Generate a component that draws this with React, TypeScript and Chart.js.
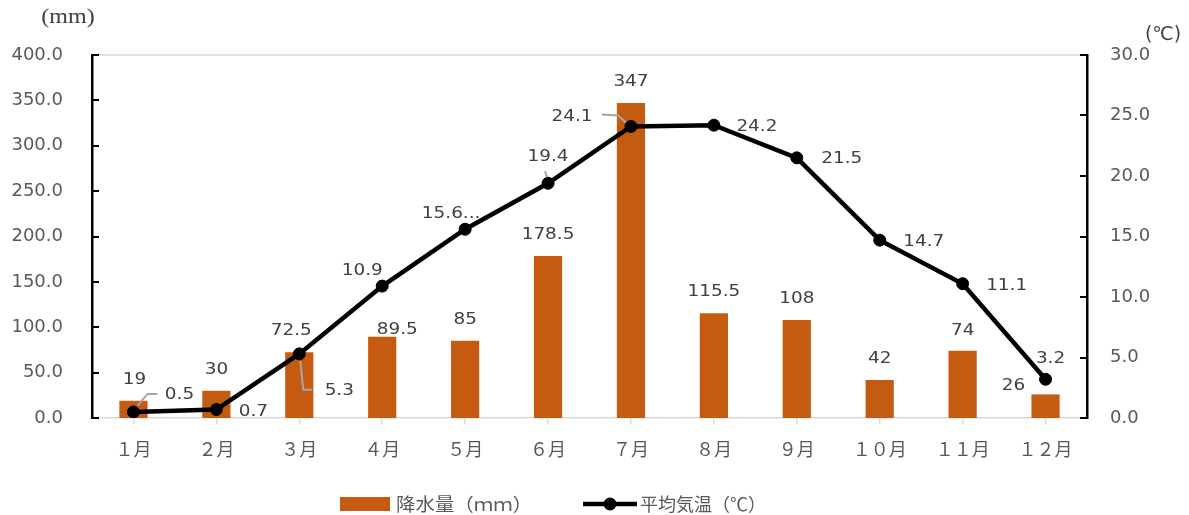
import React, { useEffect, useRef } from 'react';
import { Chart, registerables } from 'chart.js';

Chart.register(...registerables);

// ---- data ----
const months = ['１月', '２月', '３月', '４月', '５月', '６月', '７月', '８月', '９月', '１０月', '１１月', '１２月'];
const precipitation = [19, 30, 72.5, 89.5, 85, 178.5, 347, 115.5, 108, 42, 74, 26];
const temperature = [0.5, 0.7, 5.3, 10.9, 15.6, 19.4, 24.1, 24.2, 21.5, 14.7, 11.1, 3.2];
const precipLabel = '降水量（ｍｍ）';
const tempLabel = '平均気温（℃）';
const precipAxisMax = 400;
const precipAxisStep = 50;
const tempAxisMax = 30;
const tempAxisStep = 5;
const truncatedTempLabels = [4];

// ---- layout / style ----
const W = 1189;
const H = 515;
const BAR_COLOR = '#C55A11';
const LABEL_COLOR = '#404040';
const TICK_COLOR = '#595959';
const AXIS_GRAY = '#D9D9D9';
const LEADER_GRAY = '#A6A6A6';

// label offsets (pixels) relative to bar top / line point
const barLabelOffsets = [[1, -21], [0, -21], [-8, -21], [15, -7], [0, -21], [0, -21], [0, -21], [0, -21], [0, -21], [0, -21], [0, -20], [-32, -9]];
const lineLabelOffsets = [[46, -17], [37, 2], [40, 37], [-20, -15], [-14, -15], [0, -26], [-59, -10], [43, 2], [45, 1], [44, 2], [44, 2], [5, -20]];
const leaderPaths: Record<number, number[][]> = {
  0: [[4, -6], [14, -18], [24, -18]],
  2: [[1, 7], [4, 36], [13, 36]],
  5: [[-1, -6], [-3, -12]],
  6: [[-5, -4], [-13, -11], [-29, -12]],
};

function drawText(ctx: CanvasRenderingContext2D, text: string, x: number, y: number, font: string, color: string, align: CanvasTextAlign = 'center', stretch = 1) {
  ctx.save();
  ctx.font = font;
  ctx.fillStyle = color;
  ctx.textAlign = align;
  ctx.textBaseline = 'middle';
  ctx.translate(x, y);
  ctx.scale(stretch, 1);
  ctx.fillText(text, 0, 0);
  ctx.restore();
}

const overlayPlugin = {
  id: 'overlay',
  beforeDatasetsDraw(chart: any) {
    const ctx: CanvasRenderingContext2D = chart.ctx;
    const area = chart.chartArea;
    // top border line
    ctx.save();
    ctx.strokeStyle = AXIS_GRAY;
    ctx.lineWidth = 1.5;
    ctx.beginPath();
    ctx.moveTo(area.left, area.top);
    ctx.lineTo(area.right, area.top);
    ctx.stroke();
    ctx.restore();
  },
  afterDatasetsDraw(chart: any) {
    const ctx: CanvasRenderingContext2D = chart.ctx;
    const lineMeta = chart.getDatasetMeta(0);
    // leader lines
    ctx.save();
    ctx.strokeStyle = LEADER_GRAY;
    ctx.lineWidth = 2;
    Object.keys(leaderPaths).forEach((k) => {
      const i = Number(k);
      const el = lineMeta.data[i];
      if (!el) return;
      const pts = leaderPaths[i];
      ctx.beginPath();
      pts.forEach((p, j) => {
        if (j === 0) ctx.moveTo(el.x + p[0], el.y + p[1]);
        else ctx.lineTo(el.x + p[0], el.y + p[1]);
      });
      ctx.stroke();
    });
    ctx.restore();

    const labelFont = "16px 'DejaVu Sans'";
    const barMeta = chart.getDatasetMeta(1);
    barMeta.data.forEach((el: any, i: number) => {
      const v = precipitation[i];
      const o = barLabelOffsets[i];
      drawText(ctx, String(v), el.x + o[0], el.y + o[1], labelFont, LABEL_COLOR, 'center', 1.15);
    });
    lineMeta.data.forEach((el: any, i: number) => {
      const v = temperature[i];
      const o = lineLabelOffsets[i];
      const t = v.toFixed(1) + (truncatedTempLabels.includes(i) ? '...' : '');
      drawText(ctx, t, el.x + o[0], el.y + o[1], labelFont, LABEL_COLOR, 'center', 1.15);
    });
  },
  afterDraw(chart: any) {
    const ctx: CanvasRenderingContext2D = chart.ctx;
    const area = chart.chartArea;
    // inner tick marks on both y axes
    ctx.save();
    ctx.strokeStyle = '#000';
    ctx.lineWidth = 2;
    const y = chart.scales.y;
    y.ticks.forEach((t: any) => {
      const py = Math.round(y.getPixelForValue(t.value));
      ctx.beginPath();
      ctx.moveTo(area.left, py);
      ctx.lineTo(area.left + 7, py);
      ctx.stroke();
    });
    const y1 = chart.scales.y1;
    y1.ticks.forEach((t: any) => {
      const py = Math.round(y1.getPixelForValue(t.value));
      ctx.beginPath();
      ctx.moveTo(area.right, py);
      ctx.lineTo(area.right - 7, py);
      ctx.stroke();
    });
    ctx.restore();

    // axis unit titles
    drawText(ctx, '(mm)', 68, 18, "20px 'Liberation Serif'", LABEL_COLOR, 'center', 1.2);
    drawText(ctx, '(℃)', 1163, 35, "19px 'DejaVu Sans'", LABEL_COLOR, 'center', 1);

    // legend
    const ly = 504;
    const legendFont = "18px 'Noto Sans CJK JP'";
    ctx.save();
    ctx.fillStyle = BAR_COLOR;
    ctx.fillRect(340, 497, 50, 14);
    ctx.restore();
    drawText(ctx, chart.data.datasets[1].label, 396, ly, legendFont, TICK_COLOR, 'left', 1.08);
    ctx.save();
    ctx.strokeStyle = '#000';
    ctx.lineWidth = 4.5;
    ctx.beginPath();
    ctx.moveTo(583, ly);
    ctx.lineTo(637, ly);
    ctx.stroke();
    ctx.fillStyle = '#000';
    ctx.beginPath();
    ctx.arc(610, ly, 6.5, 0, Math.PI * 2);
    ctx.fill();
    ctx.restore();
    drawText(ctx, chart.data.datasets[0].label, 640, ly, legendFont, TICK_COLOR, 'left', 1);
  },
};

export default function App() {
  const ref = useRef<HTMLCanvasElement>(null);
  useEffect(() => {
    document.body.style.margin = '0';
    const canvas = ref.current;
    if (!canvas) return;
    const chart = new Chart(canvas, {
      type: 'bar',
      data: {
        labels: months,
        datasets: [
          {
            type: 'line',
            label: tempLabel,
            data: temperature,
            yAxisID: 'y1',
            borderColor: '#000',
            backgroundColor: '#000',
            borderWidth: 4.5,
            pointRadius: 6,
            pointBorderWidth: 1,
            pointBackgroundColor: '#000',
            pointBorderColor: '#000',
            tension: 0,
            order: 1,
          } as any,
          {
            type: 'bar',
            label: precipLabel,
            data: precipitation,
            yAxisID: 'y',
            backgroundColor: BAR_COLOR,
            categoryPercentage: 1,
            barPercentage: 0.34,
            order: 2,
          } as any,
        ],
      },
      options: {
        responsive: false,
        animation: false,
        events: [],
        layout: { padding: { top: 55, left: 0, right: 0, bottom: 0 } },
        plugins: {
          legend: { display: false },
          tooltip: { enabled: false },
        },
        scales: {
          x: {
            offset: true,
            grid: {
              offset: false,
              drawOnChartArea: false,
              drawTicks: true,
              tickLength: 6,
              color: AXIS_GRAY,
              lineWidth: 1.5,
            },
            border: { color: AXIS_GRAY, width: 1.5 },
            ticks: {
              color: TICK_COLOR,
              font: { family: "'Noto Sans CJK JP'", size: 18 },
              padding: 14,
              maxRotation: 0,
              autoSkip: false,
            },
            afterFit: (s: any) => { s.height = 97; },
          },
          y: {
            position: 'left',
            min: 0,
            max: precipAxisMax,
            grid: { display: false, drawTicks: false },
            border: { color: '#000', width: 2.5 },
            ticks: {
              stepSize: precipAxisStep,
              color: TICK_COLOR,
              font: { family: "'DejaVu Sans'", size: 18 },
              padding: 29,
              callback: (v: any) => Number(v).toFixed(1),
            },
            afterFit: (s: any) => { s.width = 92; },
          },
          y1: {
            position: 'right',
            min: 0,
            max: tempAxisMax,
            grid: { display: false, drawTicks: false },
            border: { color: '#000', width: 2.5 },
            ticks: {
              stepSize: tempAxisStep,
              color: TICK_COLOR,
              font: { family: "'DejaVu Sans'", size: 18 },
              padding: 23,
              callback: (v: any) => Number(v).toFixed(1),
            },
            afterFit: (s: any) => { s.width = 102; },
          },
        },
      } as any,
      plugins: [overlayPlugin as any],
    });
    return () => chart.destroy();
  }, []);

  return (
    <div style={{ width: W, height: H, background: '#fff' }}>
      <canvas ref={ref} width={W} height={H} style={{ display: 'block' }} />
    </div>
  );
}
